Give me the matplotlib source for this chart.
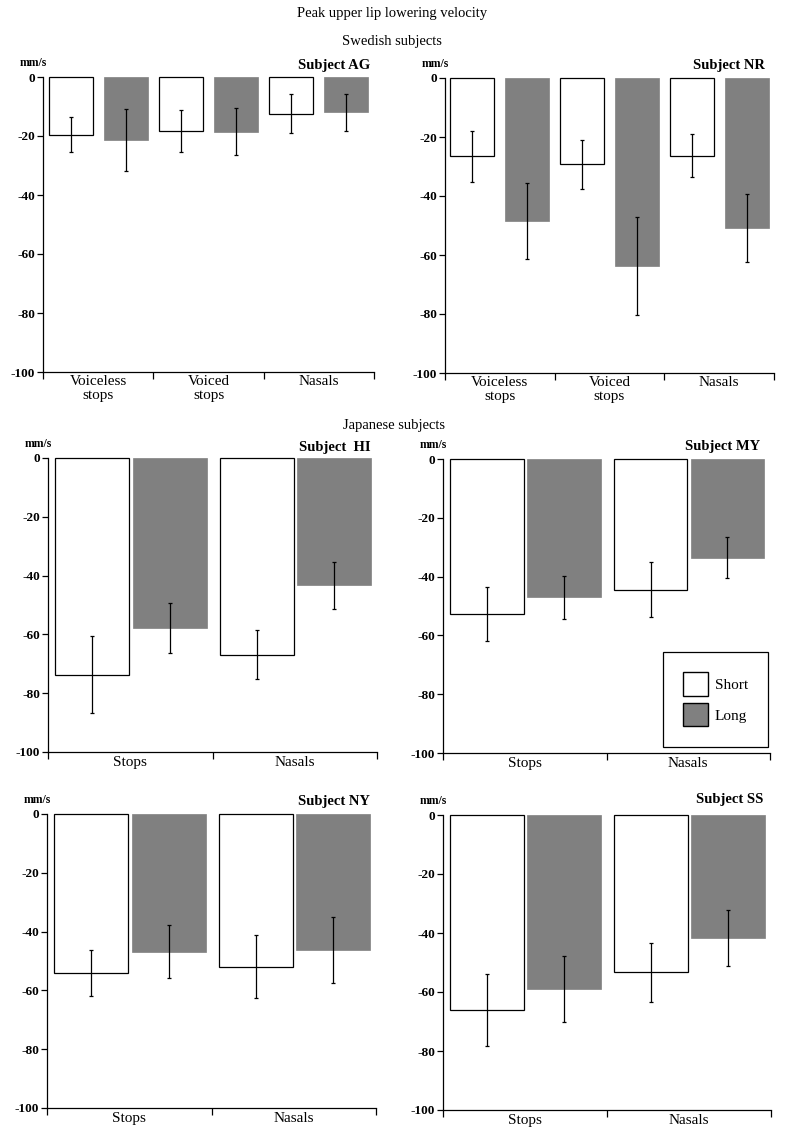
import numpy as np
import matplotlib
matplotlib.use("Agg")
import matplotlib.pyplot as plt
from matplotlib.patches import Patch

plt.rcParams["font.family"] = ["Liberation Serif", "DejaVu Serif"]

# ---- data (mm/s) ----
swe_cats = ["Voiceless\nstops", "Voiced\nstops", "Nasals"]
jap_cats = ["Stops", "Nasals"]

ag_short = [-19.5, -18.4, -12.4]
ag_short_sd = [5.8, 7.1, 6.7]
ag_long = [-21.2, -18.5, -11.9]
ag_long_sd = [10.5, 8.0, 6.3]

nr_short = [-26.6, -29.3, -26.3]
nr_short_sd = [8.5, 8.3, 7.3]
nr_long = [-48.5, -63.7, -50.8]
nr_long_sd = [13.0, 16.7, 11.5]

hi_short = [-73.7, -66.9]
hi_short_sd = [13.0, 8.3]
hi_long = [-57.8, -43.3]
hi_long_sd = [8.6, 8.0]

my_short = [-52.6, -44.4]
my_short_sd = [9.2, 9.5]
my_long = [-47.1, -33.6]
my_long_sd = [7.3, 7.0]

ny_short = [-54.2, -51.9]
ny_short_sd = [7.8, 10.6]
ny_long = [-46.8, -46.4]
ny_long_sd = [8.9, 11.2]

ss_short = [-66.1, -53.3]
ss_short_sd = [12.1, 10.0]
ss_long = [-58.9, -41.8]
ss_long_sd = [11.2, 9.5]

y_ticks = [0, -20, -40, -60, -80, -100]

GRAY = "#808080"
W, H = 800, 1141
fig = plt.figure(figsize=(W / 100, H / 100), dpi=100)


def px_rect(x0, y0, x1, y1):
    # pixel box -> figure fraction
    return [x0 / W, 1 - y1 / H, (x1 - x0) / W, (y1 - y0) / H]


def panel(rect, cats, short, short_sd, long_, long_sd, subject,
          offs=(0.25, 0.75), width=0.4, subj_x=0.98, subj_dy=12, lab_pad=1.5):
    ax = fig.add_axes(rect)
    n = len(cats)
    x = np.arange(n)
    ax.bar(x + offs[0], short, width, color="white", edgecolor="black",
           linewidth=0.9, clip_on=False, zorder=2)
    ax.bar(x + offs[1], long_, width, color=GRAY, edgecolor=GRAY,
           linewidth=0.5, clip_on=False, zorder=2)
    ax.errorbar(x + offs[0], short, yerr=short_sd, fmt="none", ecolor="black",
                elinewidth=0.9, capsize=1.5, capthick=0.9, zorder=3)
    ax.errorbar(x + offs[1], long_, yerr=long_sd, fmt="none", ecolor="black",
                elinewidth=0.9, capsize=1.5, capthick=0.9, zorder=3)

    ax.set_xlim(0, n)
    ax.set_ylim(-100, 0)
    ax.spines["top"].set_visible(False)
    ax.spines["right"].set_visible(False)
    ax.spines["left"].set_linewidth(0.9)
    ax.spines["bottom"].set_linewidth(0.9)

    ax.set_yticks(y_ticks)
    ax.set_yticklabels([str(v) for v in y_ticks], fontsize=9.5, fontweight="bold")
    ax.tick_params(axis="y", length=4, width=0.9, pad=1.5)

    ax.set_xticks(x + 0.5)
    ax.set_xticklabels(cats, fontsize=11, linespacing=1.1)
    ax.set_xticks(np.arange(n + 1), minor=True)
    ax.tick_params(axis="x", which="major", length=0, pad=lab_pad)
    ax.tick_params(axis="x", which="minor", length=5, width=0.9)

    hpx = rect[3] * H
    wpx = rect[2] * W
    ax.text(subj_x, 1 + subj_dy / hpx, subject, transform=ax.transAxes,
            ha="right", va="center", fontsize=10.5, fontweight="bold")
    ax.text(-10 / wpx, 1 + 14 / hpx, "mm/s", transform=ax.transAxes,
            ha="center", va="center", fontsize=8.5, fontweight="bold")
    return ax


jo = (0.27, 0.74)
jw = 0.45

panel(px_rect(43, 77, 374, 372), swe_cats, ag_short, ag_short_sd,
      ag_long, ag_long_sd, "Subject AG", subj_x=0.988, lab_pad=2.5)
panel(px_rect(445, 78, 774, 373), swe_cats, nr_short, nr_short_sd,
      nr_long, nr_long_sd, "Subject NR", subj_x=0.973, lab_pad=2.5)

panel(px_rect(48, 458, 377, 752), jap_cats, hi_short, hi_short_sd,
      hi_long, hi_long_sd, "Subject  HI", offs=jo, width=jw,
      subj_x=0.98, subj_dy=10, lab_pad=3)
ax_my = panel(px_rect(443, 459, 770, 753), jap_cats, my_short, my_short_sd,
              my_long, my_long_sd, "Subject MY", offs=jo, width=jw,
              subj_x=0.969, subj_dy=13, lab_pad=3)

panel(px_rect(47, 814, 376, 1108), jap_cats, ny_short, ny_short_sd,
      ny_long, ny_long_sd, "Subject NY", offs=jo, width=jw,
      subj_x=0.98, subj_dy=13, lab_pad=3)
panel(px_rect(443, 815, 771, 1110), jap_cats, ss_short, ss_short_sd,
      ss_long, ss_long_sd, "Subject SS", offs=jo, width=jw,
      subj_x=0.978, subj_dy=15, lab_pad=3)

handles = [Patch(facecolor="white", edgecolor="black", linewidth=1.0, label="Short"),
           Patch(facecolor=GRAY, edgecolor="black", linewidth=1.0, label="Long")]
leg = ax_my.legend(handles=handles, loc="lower right", bbox_to_anchor=(0.995, 0.02),
                   fontsize=11, frameon=True, fancybox=False, framealpha=1,
                   edgecolor="black", handlelength=1.6, handleheight=2.0,
                   handletextpad=0.45, labelspacing=0.45, borderpad=1.35,
                   borderaxespad=0)
leg.get_frame().set_linewidth(0.9)

fig.text(0.49, 1 - 14 / H, "Peak upper lip lowering velocity", ha="center",
         va="center", fontsize=10.5)
fig.text(0.49, 1 - 42 / H, "Swedish subjects", ha="center", va="center", fontsize=10.5)
fig.text(0.493, 1 - 425 / H, "Japanese subjects", ha="center", va="center", fontsize=10.5)

fig.savefig("out.png", dpi=100)
